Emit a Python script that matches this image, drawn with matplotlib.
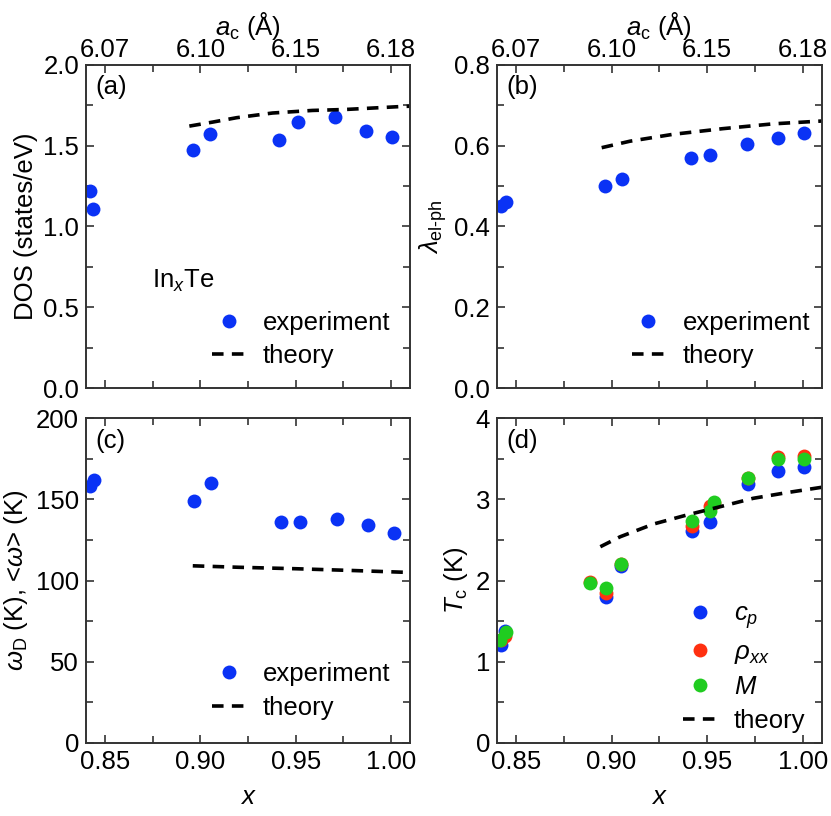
import numpy as np
import matplotlib
matplotlib.use("Agg")
import matplotlib.pyplot as plt
from matplotlib.ticker import MultipleLocator

plt.rcParams['font.family'] = ['Liberation Sans', 'DejaVu Sans']
plt.rcParams['mathtext.fontset'] = 'custom'
plt.rcParams['mathtext.rm'] = 'Liberation Sans'
plt.rcParams['mathtext.it'] = 'Liberation Sans:italic'
plt.rcParams['font.size'] = 18.5

BLUE = '#0a32f5'
RED = '#ff3010'
GREEN = '#20cc20'
SPINE = '#333333'

# experiment x (In content)
x_exp = [0.8419, 0.8437, 0.8963, 0.9052, 0.9413, 0.9513, 0.9706, 0.9870, 1.0006]
# (a) DOS
dos_exp = [1.220, 1.107, 1.475, 1.572, 1.537, 1.644, 1.677, 1.588, 1.553]
x_dos_th = [0.8942, 0.9065, 0.919, 0.9378, 0.9588, 0.9762, 1.0067, 1.01]
dos_th = [1.621, 1.646, 1.673, 1.702, 1.718, 1.724, 1.743, 1.744]
# (b) lambda el-ph
x_lam = [0.8420, 0.8446, 0.8965, 0.9054, 0.9415, 0.9513, 0.9710, 0.9873, 1.0006]
lam_exp = [0.450, 0.461, 0.500, 0.517, 0.570, 0.576, 0.603, 0.620, 0.631]
x_lam_th = [0.8948, 0.9096, 0.932, 0.958, 0.9845, 1.0063, 1.01]
lam_th = [0.595, 0.611, 0.628, 0.642, 0.654, 0.660, 0.661]
# (c) omega
x_om = [0.8421, 0.8444, 0.8967, 0.9054, 0.9422, 0.9520, 0.9716, 0.9878, 1.0013]
om_exp = [158.3, 162.0, 149.2, 159.9, 136.1, 136.1, 138.1, 134.2, 129.3]
x_om_th = [0.896, 0.92, 0.95, 0.98, 1.01]
om_th = [109.1, 108.2, 107.3, 106.2, 105.0]
# (d) Tc
x_cp = [0.8422, 0.8443, 0.8969, 0.9051, 0.9420, 0.9516, 0.9713, 0.9873, 1.0007]
tc_cp = [1.204, 1.381, 1.800, 2.179, 2.614, 2.722, 3.194, 3.350, 3.396]
x_rho = [0.8422, 0.8444, 0.8885, 0.8969, 0.9051, 0.9420, 0.9516, 0.9537, 0.9713, 0.9873, 1.0007]
tc_rho = [1.27, 1.316, 1.985, 1.842, 2.20, 2.672, 2.919, 2.95, 3.26, 3.527, 3.535]
x_m = [0.8418, 0.8446, 0.8885, 0.8969, 0.9051, 0.9420, 0.9516, 0.9537, 0.9713, 0.9873, 1.0007]
tc_m = [1.274, 1.365, 1.973, 1.903, 2.20, 2.738, 2.861, 2.968, 3.268, 3.494, 3.50]
x_tc_th = [0.8941, 0.9045, 0.922, 0.9394, 0.9568, 0.974, 0.9916, 1.0099]
tc_th = [2.417, 2.540, 2.697, 2.808, 2.910, 3.013, 3.083, 3.149]

x_ticks = [0.85, 0.90, 0.95, 1.00]
x_tick_labels = ['0.85', '0.90', '0.95', '1.00']
ac_tick_labels = ['6.07', '6.10', '6.15', '6.18']

fig = plt.figure(figsize=(8.31, 8.16), dpi=100)
axA = fig.add_axes([0.1035, 0.5245, 0.390, 0.396])
axB = fig.add_axes([0.598, 0.5245, 0.391, 0.396])
axC = fig.add_axes([0.1035, 0.0895, 0.390, 0.398])
axD = fig.add_axes([0.598, 0.0895, 0.391, 0.398])


def style(ax, top_ticks=True):
    ax.set_xlim(0.84, 1.01)
    ax.set_xticks(x_ticks)
    ax.xaxis.set_minor_locator(MultipleLocator(0.025))
    ax.tick_params(which='both', direction='in', top=top_ticks, right=True,
                   color=SPINE, width=1.2)
    ax.tick_params(which='major', length=6, pad=5)
    ax.tick_params(which='minor', length=5)
    for s in ax.spines.values():
        s.set_color(SPINE)
        s.set_linewidth(1.4)


def add_top(ax):
    tw = ax.twiny()
    tw.set_xlim(ax.get_xlim())
    tw.set_xticks(x_ticks)
    tw.set_xticklabels(ac_tick_labels)
    tw.xaxis.set_minor_locator(MultipleLocator(0.025))
    tw.tick_params(which='both', direction='in', color=SPINE, width=1.2, pad=2)
    tw.tick_params(which='major', length=6)
    tw.tick_params(which='minor', length=5)
    tw.set_xlabel(r'$a_{\rm c}$ (Å)', labelpad=2)
    for s in tw.spines.values():
        s.set_visible(False)


mk = dict(marker='o', linestyle='none', markersize=10, markeredgewidth=0)
dash = dict(color='black', linestyle=(0, (3.2, 2.3)), linewidth=2.6)
leg = dict(frameon=False, handlelength=1.25, handletextpad=0.7, labelspacing=0.36,
           fontsize=18.5, borderaxespad=0.0)

# (a)
style(axA, top_ticks=False)
axA.plot(x_exp, dos_exp, color=BLUE, label='experiment', **mk)
axA.plot(x_dos_th, dos_th, label='theory', **dash)
axA.set_ylim(0, 2.0)
axA.yaxis.set_minor_locator(MultipleLocator(0.25))
axA.set_yticks([0, 0.5, 1.0, 1.5, 2.0])
axA.set_yticklabels(['0.0', '0.5', '1.0', '1.5', '2.0'])
axA.set_xticklabels([])
axA.set_ylabel('DOS (states/eV)')
axA.text(0.028, 0.93, '(a)', transform=axA.transAxes, va='center')
axA.text(0.205, 0.33, r'In$_{x}$Te', transform=axA.transAxes, va='center')
axA.legend(loc='lower right', bbox_to_anchor=(0.97, 0.03), **leg)
add_top(axA)

# (b)
style(axB, top_ticks=False)
axB.plot(x_lam, lam_exp, color=BLUE, label='experiment', **mk)
axB.plot(x_lam_th, lam_th, label='theory', **dash)
axB.set_ylim(0, 0.8)
axB.set_yticks([0, 0.2, 0.4, 0.6, 0.8])
axB.set_yticklabels(['0.0', '0.2', '0.4', '0.6', '0.8'])
axB.yaxis.set_minor_locator(MultipleLocator(0.1))
axB.set_xticklabels([])
axB.set_ylabel(r'$\lambda_{\rm el\text{-}ph}$')
axB.text(0.028, 0.93, '(b)', transform=axB.transAxes, va='center')
axB.legend(loc='lower right', bbox_to_anchor=(0.995, 0.03), **leg)
add_top(axB)

# (c)
style(axC)
axC.plot(x_om, om_exp, color=BLUE, label='experiment', **mk)
axC.plot(x_om_th, om_th, label='theory', **dash)
axC.set_ylim(0, 200)
axC.yaxis.set_major_locator(MultipleLocator(50))
axC.yaxis.set_minor_locator(MultipleLocator(25))
axC.set_xticklabels(x_tick_labels)
axC.set_ylabel(r'$\omega_{\rm D}$ (K), <$\omega$> (K)')
axC.set_xlabel(r'$x$', labelpad=8)
axC.text(0.028, 0.93, '(c)', transform=axC.transAxes, va='center')
axC.legend(loc='lower right', bbox_to_anchor=(0.97, 0.04), **leg)

# (d)
style(axD)
axD.plot(x_cp, tc_cp, color=BLUE, label=r'$c_{p}$', **mk)
axD.plot(x_rho, tc_rho, color=RED, label=r'$\rho_{xx}$', **mk)
axD.plot(x_m, tc_m, color=GREEN, label=r'$M$', **mk)
axD.plot(x_tc_th, tc_th, label='theory', **dash)
axD.set_ylim(0, 4)
axD.yaxis.set_major_locator(MultipleLocator(1))
axD.yaxis.set_minor_locator(MultipleLocator(0.5))
axD.set_xticklabels(x_tick_labels)
axD.set_ylabel(r'$T_{\rm c}$ (K)')
axD.set_xlabel(r'$x$', labelpad=8)
axD.text(0.028, 0.93, '(d)', transform=axD.transAxes, va='center')
axD.legend(loc='lower right', bbox_to_anchor=(0.98, 0.0), **leg)

fig.savefig('out.png', dpi=100)
